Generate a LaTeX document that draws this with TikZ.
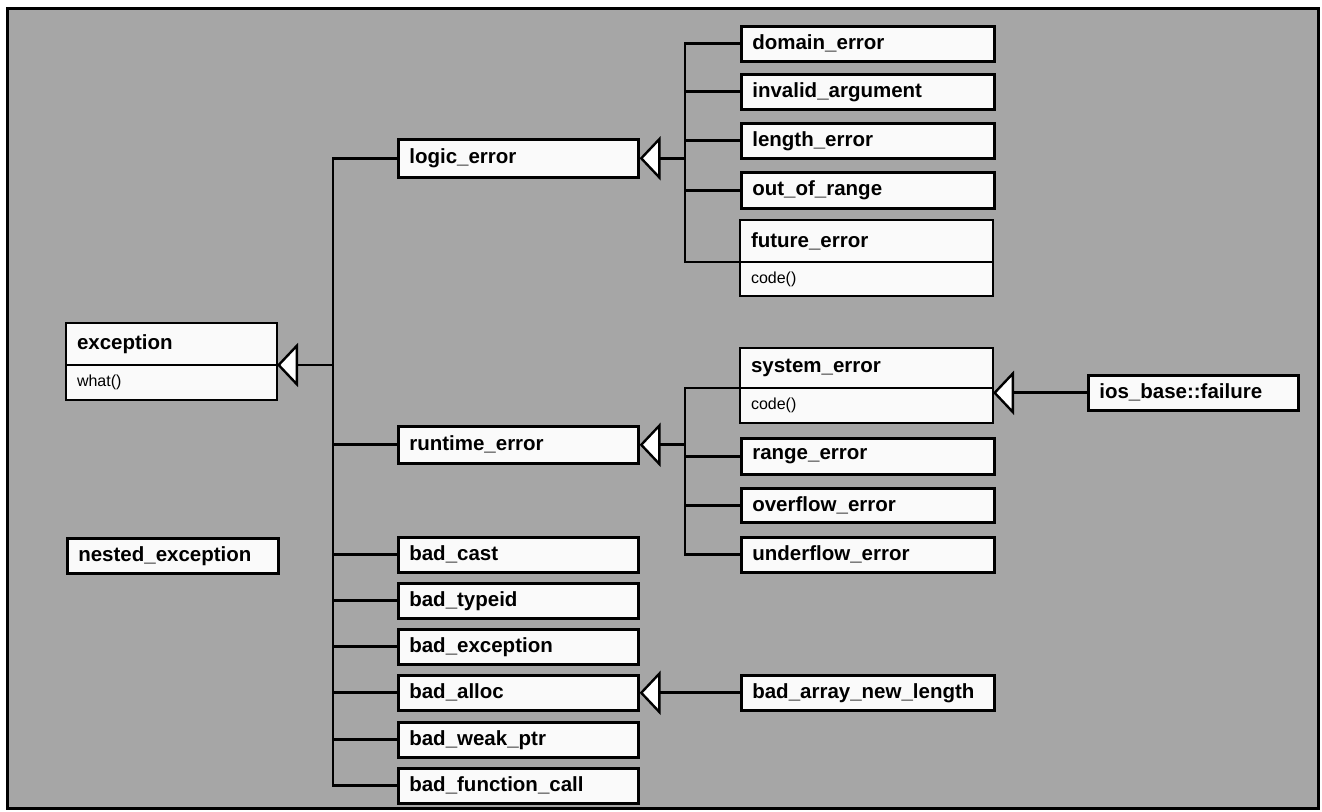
\documentclass[tikz,border=0pt]{standalone}
\usepackage{fontspec}
\setmainfont{Liberation Sans}
\usetikzlibrary{arrows.meta}
\definecolor{bg}{RGB}{166,166,166}
\definecolor{boxw}{RGB}{250,250,250}
\begin{document}
\begin{tikzpicture}[x=1pt,y=-1pt,
  cls/.style={draw, line width=2.6pt, fill=boxw, anchor=north west, inner xsep=11pt, inner ysep=0pt, align=left, font=\bfseries\fontsize{20.5}{22}\selectfont, minimum height=35pt},
  hdr/.style={cls, draw=none, outer sep=0pt},
  ops/.style={fill=boxw, draw=none, anchor=north west, inner xsep=11pt, inner ysep=0pt, outer sep=0pt, align=left, font=\fontsize{16}{18}\selectfont, minimum height=35pt},
  wl/.style={text width=189pt}, wm/.style={text width=218pt}, wr/.style={text width=231pt}, wi/.style={text width=188pt},
  link/.style={line width=2.8pt, line cap=rect},
  inh/.style={line width=2.8pt, -{Triangle[length=21pt,width=44pt,fill=white,line width=2.4pt]}},
  outline/.style={line width=2.6pt},
  divider/.style={line width=1.2pt}
]
\useasboundingbox (0,0) rectangle (1322,811);
\fill[white] (0,0) rectangle (1322,811);
\draw[line width=3pt, fill=bg] (7,8) rectangle (1318,808);

% left column
\node[hdr, wl, minimum height=42pt] (exc) at (66,323) {exception};
\node[ops, wl] (excop) at (exc.south west) {what()};
\draw[outline] (exc.north west) rectangle (excop.south east);
\draw[divider] (exc.south west) -- (exc.south east);
\node[cls, wl] (nested) at (66,537) {nested\_exception};

% middle column
\node[cls, wm, minimum height=38pt] (logic) at (397,138) {logic\_error};
\node[cls, wm, minimum height=37pt] (runtime) at (397,425) {runtime\_error};
\node[cls, wm] (badcast) at (397,536) {bad\_cast};
\node[cls, wm] (badtypeid) at (397,582) {bad\_typeid};
\node[cls, wm] (badexc) at (397,628) {bad\_exception};
\node[cls, wm] (badalloc) at (397,674) {bad\_alloc};
\node[cls, wm] (badweak) at (397,721) {bad\_weak\_ptr};
\node[cls, wm] (badfunc) at (397,767) {bad\_function\_call};

% right column
\node[cls, wr] (domain) at (740,25) {domain\_error};
\node[cls, wr] (invalid) at (740,73) {invalid\_argument};
\node[cls, wr] (length) at (740,122) {length\_error};
\node[cls, wr, minimum height=36pt] (oor) at (740,171) {out\_of\_range};
\node[hdr, wr, minimum height=42pt] (fut) at (740,220) {future\_error};
\node[ops, wr, minimum height=34pt] (futop) at (fut.south west) {code()};
\draw[outline] (fut.north west) rectangle (futop.south east);
\draw[divider] (fut.south west) -- (fut.south east);
\node[hdr, wr, minimum height=40pt] (sys) at (740,348) {system\_error};
\node[ops, wr] (sysop) at (sys.south west) {code()};
\draw[outline] (sys.north west) rectangle (sysop.south east);
\draw[divider] (sys.south west) -- (sys.south east);
\node[cls, wr, minimum height=36pt] (range) at (740,437) {range\_error};
\node[cls, wr, minimum height=34pt] (overflow) at (740,487) {overflow\_error};
\node[cls, wr] (underflow) at (740,536) {underflow\_error};
\node[cls, wr] (banl) at (740,674) {bad\_array\_new\_length};
\node[cls, wi] (ios) at (1087,374) {ios\_base::failure};

% trunks
\coordinate (tr) at (333,0);
\coordinate (st) at (685,0);

\draw[inh] (tr |- exc.south east) -- (exc.south east);
\draw[link] (tr |- logic.west) -- (tr |- badfunc.west);
\foreach \n in {logic,runtime,badcast,badtypeid,badexc,badalloc,badweak,badfunc}
  \draw[link] (tr |- \n.west) -- (\n.west);

\draw[inh] (st |- logic.east) -- (logic.east);
\draw[link] (st |- domain.west) -- (st |- fut.south west);
\foreach \n in {domain,invalid,length,oor}
  \draw[link] (st |- \n.west) -- (\n.west);
\draw[link] (st |- fut.south west) -- (fut.south west);

\draw[inh] (st |- runtime.east) -- (runtime.east);
\draw[link] (st |- sys.south west) -- (st |- underflow.west);
\draw[link] (st |- sys.south west) -- (sys.south west);
\foreach \n in {range,overflow,underflow}
  \draw[link] (st |- \n.west) -- (\n.west);

\draw[inh] (ios.west) -- (ios.west -| sys.east);
\draw[inh] (banl.west) -- (badalloc.east);
\end{tikzpicture}
\end{document}
